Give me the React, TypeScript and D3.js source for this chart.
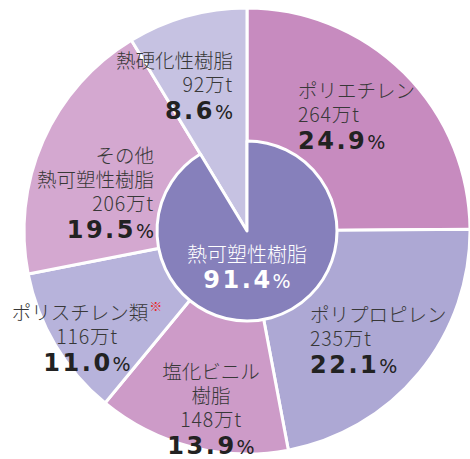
import React from "react";
import * as d3 from "d3";

const categories = ["ポリエチレン", "ポリプロピレン", "塩化ビニル樹脂", "ポリスチレン類", "その他熱可塑性樹脂", "熱硬化性樹脂"];
const amounts = [264, 235, 148, 116, 206, 92]; // 万t
const percents = ["24.9", "22.1", "13.9", "11.0", "19.5", "8.6"];
const nameLines = [["ポリエチレン"], ["ポリプロピレン"], ["塩化ビニル", "樹脂"], ["ポリスチレン類"], ["その他", "熱可塑性樹脂"], ["熱硬化性樹脂"]];
const groupLabel = "熱可塑性樹脂";
const groupPercent = "91.4";
const isThermoplastic = [true, true, true, true, true, false];

const colors = ["#c78bbf", "#ada8d4", "#cd9bc8", "#b7b3db", "#d4a8d0", "#c6c2e2"];
const innerColor = "#8680bb";

const W = 470, H = 459;
const cx = 247, cy = 231, R = 223, r0 = 90;

// label anchor (x, baseline of first line, text-anchor) relative to centre
const labelLayout = [
  { dx: 51, dy: -133, anchor: "start" },
  { dx: 63, dy: 91, anchor: "start" },
  { dx: -36, dy: 148, anchor: "middle" },
  { dx: -160, dy: 89, anchor: "middle" },
  { dx: -93, dy: -68, anchor: "end" },
  { dx: -14, dy: -163, anchor: "end" },
];

const jp = "'Noto Sans CJK JP', 'Noto Sans', sans-serif";
const num = "'DejaVu Sans', 'Liberation Sans', sans-serif";

export default function App() {
  const pie = d3.pie<number>().sort(null).value((d) => d).startAngle(0).endAngle(2 * Math.PI);
  const arcs = pie(amounts);
  const outerArc = d3.arc<d3.PieArcDatum<number>>().innerRadius(0).outerRadius(R);
  const tpEnd = arcs.filter((a, i) => isThermoplastic[i]).reduce((m, a) => Math.max(m, a.endAngle), 0);
  const innerArc = d3.arc()({ innerRadius: 0, outerRadius: r0, startAngle: 0, endAngle: tpEnd }) as string;

  const lineH = 24;

  return (
    <svg width={W} height={H} style={{ position: "absolute", left: 0, top: 0, background: "#fff" }}>
      <g transform={`translate(${cx},${cy})`}>
        {arcs.map((a, i) => (
          <path key={i} d={outerArc(a) as string} fill={colors[i]} stroke="#fff" strokeWidth={3} strokeLinejoin="round" />
        ))}
        <path d={innerArc} fill={innerColor} stroke="#fff" strokeWidth={3} strokeLinejoin="round" />
        {arcs.map((a, i) => {
          const L = labelLayout[i];
          const lines = nameLines[i];
          const n = lines.length;
          return (
            <g key={"l" + i} fill="#383838">
              {lines.map((t, j) => (
                <text key={j} x={L.dx} y={L.dy + j * lineH} textAnchor={L.anchor} fontFamily={jp} fontSize={19.5} fontWeight={300}>
                  {t}
                  {i === 3 && j === 0 ? (
                    <tspan fill="#e8262a" fontSize={13} dx={1} dy={-9}>※</tspan>
                  ) : null}
                </text>
              ))}
              <text x={L.dx} y={L.dy + n * lineH} textAnchor={L.anchor} fontFamily={jp} fontSize={19.5} fontWeight={300} letterSpacing={0.8}>
                {amounts[i]}万t
              </text>
              <text x={L.dx} y={L.dy + n * lineH + 27} textAnchor={L.anchor} fontFamily={num} fill="#222">
                <tspan fontSize={24} fontWeight={700} letterSpacing={2.5}>{percents[i]}</tspan>
                <tspan fontSize={19} fontWeight={400}>%</tspan>
              </text>
            </g>
          );
        })}
        <text x={0} y={31} textAnchor="middle" fill="#fff" fontFamily={jp} fontSize={20} fontWeight={300}>{groupLabel}</text>
        <text x={0} y={57} textAnchor="middle" fill="#fff" fontFamily={num}>
          <tspan fontSize={24} fontWeight={700} letterSpacing={2.5}>{groupPercent}</tspan>
          <tspan fontSize={19} fontWeight={400}>%</tspan>
        </text>
      </g>
    </svg>
  );
}
